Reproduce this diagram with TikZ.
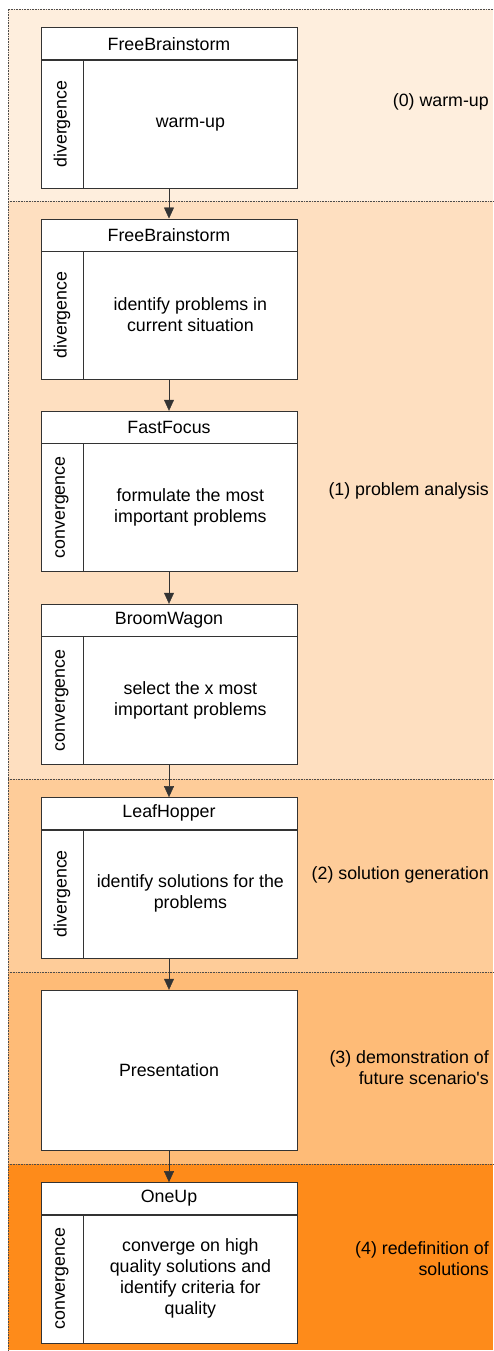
\documentclass[tikz,border=0pt]{standalone}
\usepackage{fontspec}
\setmainfont{Liberation Sans}[Ligatures=TeXOff]
\usetikzlibrary{arrows.meta,positioning}
\definecolor{lanezero}{HTML}{FEEEDD}
\definecolor{laneone}{HTML}{FEDFC0}
\definecolor{lanetwo}{HTML}{FECC99}
\definecolor{lanethree}{HTML}{FEBB77}
\definecolor{lanefour}{HTML}{FE8B1A}
\definecolor{boxline}{HTML}{333333}

\begin{document}
\begin{tikzpicture}[x=1pt, y=-1pt, font=\fontsize{17.8}{21}\selectfont,
  title/.style={draw=boxline, fill=white, minimum width=256pt,
    minimum height=32pt, inner sep=0pt},
  side/.style={draw=boxline, fill=white, minimum width=42pt,
    minimum height=128pt, inner sep=0pt},
  body/.style={draw=boxline, fill=white, minimum width=214pt,
    minimum height=128pt, inner sep=0pt, align=center},
  flow/.style={draw=boxline, -{Triangle[length=11pt, width=10pt]}},
  lanelabel/.style={anchor=east, align=right, inner sep=0pt},
  border/.style={densely dotted, line width=0.6pt, black!70}]
  \useasboundingbox (0,0) rectangle (493,1351);

  % Lanes
  \fill[lanezero]  (8,9)    rectangle (493,201);
  \fill[laneone]   (8,201)  rectangle (493,779);
  \fill[lanetwo]   (8,779)  rectangle (493,972);
  \fill[lanethree] (8,972)  rectangle (493,1164);
  \fill[lanefour]  (8,1164) rectangle (493,1350);
  \draw[border] (493,9) -- (8,9) -- (8,1350);
  \foreach \y in {201,779,972,1164}
    \draw[border] (8,\y) -- (493,\y);

  % Lane labels
  \node[lanelabel] (l0) at (489,102) {(0) warm-up};
  \node[lanelabel] (l1) at (489,491) {(1) problem analysis};
  \node[lanelabel] (l2) at (489,875) {(2) solution generation};
  \node[lanelabel] (l3) at (489,1068) {(3) demonstration of\\future scenario's};
  \node[lanelabel] (l4) at (489,1259) {(4) redefinition of\\solutions};

  % (0) warm-up
  \node[title] (fb0) at (169,43.7) {FreeBrainstorm};
  \node[side, anchor=north west] (s0) at (fb0.south west) {\rotatebox{90}{divergence}};
  \node[body, anchor=north west] (b0) at (s0.north east) {warm-up};

  % (1) problem analysis
  \node[title] (fb1) at (169,234.7) {FreeBrainstorm};
  \node[side, anchor=north west] (s1) at (fb1.south west) {\rotatebox{90}{divergence}};
  \node[body, anchor=north west] (b1) at (s1.north east)
    {identify problems in\\current situation};

  \node[title] (ff) at (169,427) {FastFocus};
  \node[side, anchor=north west] (s2) at (ff.south west) {\rotatebox{90}{convergence}};
  \node[body, anchor=north west] (b2) at (s2.north east)
    {formulate the most\\important problems};

  \node[title] (bw) at (169,620) {BroomWagon};
  \node[side, anchor=north west] (s3) at (bw.south west) {\rotatebox{90}{convergence}};
  \node[body, anchor=north west] (b3) at (s3.north east)
    {select the x most\\important problems};

  % (2) solution generation
  \node[title] (lh) at (169,813.3) {LeafHopper};
  \node[side, anchor=north west] (s4) at (lh.south west) {\rotatebox{90}{divergence}};
  \node[body, anchor=north west] (b4) at (s4.north east)
    {identify solutions for the\\problems};

  % (3) demonstration
  \node[draw=boxline, fill=white, minimum width=256pt, minimum height=160pt]
    (pr) at (169,1070) {Presentation};

  % (4) redefinition
  \node[title] (ou) at (169,1198.3) {OneUp};
  \node[side, anchor=north west] (s5) at (ou.south west) {\rotatebox{90}{convergence}};
  \node[body, anchor=north west] (b5) at (s5.north east)
    {converge on high\\quality solutions and\\identify criteria for\\quality};

  % Flow
  \draw[flow] (fb0 |- b0.south) -- (fb1.north);
  \draw[flow] (fb1 |- b1.south) -- (ff.north);
  \draw[flow] (ff |- b2.south) -- (bw.north);
  \draw[flow] (bw |- b3.south) -- (lh.north);
  \draw[flow] (lh |- b4.south) -- (pr.north);
  \draw[flow] (pr.south) -- (ou.north);
\end{tikzpicture}
\end{document}
